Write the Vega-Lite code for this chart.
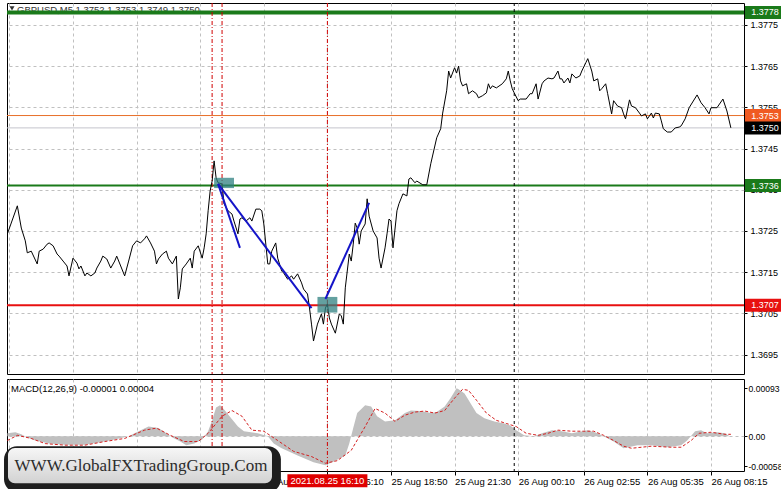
{
"$schema":"https://vega.github.io/schema/vega-lite/v6.json",
"background":"white",
"padding":{"left":3,"top":2,"right":0,"bottom":0},
"spacing":3,
"config":{"view":{"stroke":"#000","strokeWidth":1},"axis":{"labelFont":"Liberation Sans","labelFontSize":9,"labelColor":"#000","tickColor":"#000","domain":false,"gridColor":"#c0c0c0","gridDash":[3,3],"gridWidth":1},"text":{"font":"Liberation Sans","fontSize":9.5}},
"vconcat":[
{"width":737,"height":371,"layer":[
 {"data":{"values":[{}]},"mark":{"type":"text","text":"GBPUSD,M5  1.3752 1.3753 1.3749 1.3750","align":"left","baseline":"middle","color":"#333","xOffset":10},
  "encoding":{"x":{"datum":1629859440000,"type":"temporal","title":null},"y":{"datum":1.37786,"type":"quantitative","title":null}}},
 {"data":{"values":[{}]},"mark":{"type":"point","shape":"triangle-down","filled":true,"color":"#333","size":25,"xOffset":5,"opacity":1},
  "encoding":{"x":{"datum":1629859440000,"type":"temporal","title":null},"y":{"datum":1.3779,"type":"quantitative","title":null}}},
 {"data":{"values":[{"name":"bid","price":1.375},{"name":"ask","price":1.3753}]},
  "mark":{"type":"rule","strokeWidth":1},
  "encoding":{"y":{"field":"price","type":"quantitative","title":null},
   "stroke":{"field":"name","type":"nominal","scale":{"domain":["res","ask","bid","buy","sell"],"range":["#1a7a1a","#e8702a","#c4c4cc","#1a7a1a","#e81010"]},"legend":null}}},
 {"data":{"values":[{"name":"buy","price":1.3736},{"name":"sell","price":1.3707}]},
  "mark":{"type":"rule","strokeWidth":2},
  "encoding":{"y":{"field":"price","type":"quantitative","title":null},
   "stroke":{"field":"name","type":"nominal","legend":null}}},
 {"data":{"values":[{"name":"res","price":1.3778}]},
  "mark":{"type":"rule","strokeWidth":4},
  "encoding":{"y":{"field":"price","type":"quantitative","title":null},
   "stroke":{"field":"name","type":"nominal","legend":null}}},
 {"data":{"values":[{"t":"2021-08-25T11:20Z"},{"t":"2021-08-25T11:45Z"},{"t":"2021-08-25T16:10Z"}]},
  "mark":{"type":"rule","color":"#d00000","strokeDash":[4,2,1,2],"strokeWidth":1},
  "encoding":{"x":{"field":"t","type":"temporal","title":null}}},
 {"data":{"values":[{"t":"2021-08-26T00:00Z"}]},
  "mark":{"type":"rule","color":"#000","strokeDash":[3,3],"strokeWidth":1},
  "encoding":{"x":{"field":"t","type":"temporal","title":null}}},
 {"data":{"values":[
{"t":"2021-08-25T02:45Z","p":1.37243},{"t":"2021-08-25T03:10Z","p":1.37311},{"t":"2021-08-25T03:20Z","p":1.37257},{"t":"2021-08-25T03:30Z","p":1.37226},{"t":"2021-08-25T03:35Z","p":1.37197},{"t":"2021-08-25T03:45Z","p":1.37201},{"t":"2021-08-25T04:00Z","p":1.3717},{"t":"2021-08-25T04:05Z","p":1.37201},{"t":"2021-08-25T04:15Z","p":1.37206},{"t":"2021-08-25T04:25Z","p":1.37218},{"t":"2021-08-25T04:30Z","p":1.37221},{"t":"2021-08-25T04:40Z","p":1.37214},{"t":"2021-08-25T04:50Z","p":1.37194},{"t":"2021-08-25T04:55Z","p":1.37189},{"t":"2021-08-25T05:05Z","p":1.37177},{"t":"2021-08-25T05:15Z","p":1.37165},{"t":"2021-08-25T05:20Z","p":1.37141},{"t":"2021-08-25T05:30Z","p":1.37184},{"t":"2021-08-25T05:40Z","p":1.37172},{"t":"2021-08-25T05:45Z","p":1.37158},{"t":"2021-08-25T05:50Z","p":1.37165},{"t":"2021-08-25T06:00Z","p":1.37141},{"t":"2021-08-25T06:05Z","p":1.37148},{"t":"2021-08-25T06:15Z","p":1.37141},{"t":"2021-08-25T06:25Z","p":1.37148},{"t":"2021-08-25T06:30Z","p":1.3716},{"t":"2021-08-25T06:40Z","p":1.37177},{"t":"2021-08-25T06:45Z","p":1.37189},{"t":"2021-08-25T06:55Z","p":1.37182},{"t":"2021-08-25T07:05Z","p":1.3716},{"t":"2021-08-25T07:15Z","p":1.37177},{"t":"2021-08-25T07:20Z","p":1.37189},{"t":"2021-08-25T07:30Z","p":1.37165},{"t":"2021-08-25T07:40Z","p":1.37141},{"t":"2021-08-25T07:50Z","p":1.37177},{"t":"2021-08-25T08:00Z","p":1.37214},{"t":"2021-08-25T08:10Z","p":1.37226},{"t":"2021-08-25T08:20Z","p":1.37221},{"t":"2021-08-25T08:30Z","p":1.37231},{"t":"2021-08-25T08:35Z","p":1.37238},{"t":"2021-08-25T08:45Z","p":1.37221},{"t":"2021-08-25T08:55Z","p":1.37201},{"t":"2021-08-25T09:00Z","p":1.3717},{"t":"2021-08-25T09:05Z","p":1.37182},{"t":"2021-08-25T09:15Z","p":1.37194},{"t":"2021-08-25T09:25Z","p":1.37201},{"t":"2021-08-25T09:30Z","p":1.37184},{"t":"2021-08-25T09:40Z","p":1.3717},{"t":"2021-08-25T09:50Z","p":1.37189},{"t":"2021-08-25T09:55Z","p":1.37085},{"t":"2021-08-25T10:00Z","p":1.37112},{"t":"2021-08-25T10:05Z","p":1.37158},{"t":"2021-08-25T10:15Z","p":1.3717},{"t":"2021-08-25T10:25Z","p":1.37184},{"t":"2021-08-25T10:30Z","p":1.3716},{"t":"2021-08-25T10:35Z","p":1.37201},{"t":"2021-08-25T10:45Z","p":1.37214},{"t":"2021-08-25T10:55Z","p":1.37184},{"t":"2021-08-25T11:00Z","p":1.37209},{"t":"2021-08-25T11:05Z","p":1.37243},{"t":"2021-08-25T11:10Z","p":1.37299},{"t":"2021-08-25T11:15Z","p":1.37347},{"t":"2021-08-25T11:20Z","p":1.37371},{"t":"2021-08-25T11:25Z","p":1.3742},{"t":"2021-08-25T11:30Z","p":1.37379},{"t":"2021-08-25T11:35Z","p":1.37367},{"t":"2021-08-25T11:45Z","p":1.37364},{"t":"2021-08-25T11:50Z","p":1.37316},{"t":"2021-08-25T12:00Z","p":1.37299},{"t":"2021-08-25T12:10Z","p":1.37291},{"t":"2021-08-25T12:15Z","p":1.37274},{"t":"2021-08-25T12:25Z","p":1.37243},{"t":"2021-08-25T12:30Z","p":1.37279},{"t":"2021-08-25T12:35Z","p":1.37282},{"t":"2021-08-25T12:45Z","p":1.37274},{"t":"2021-08-25T12:55Z","p":1.37282},{"t":"2021-08-25T13:00Z","p":1.37274},{"t":"2021-08-25T13:10Z","p":1.37303},{"t":"2021-08-25T13:20Z","p":1.37303},{"t":"2021-08-25T13:25Z","p":1.37299},{"t":"2021-08-25T13:30Z","p":1.37267},{"t":"2021-08-25T13:40Z","p":1.3717},{"t":"2021-08-25T13:45Z","p":1.3717},{"t":"2021-08-25T13:50Z","p":1.37201},{"t":"2021-08-25T14:00Z","p":1.37221},{"t":"2021-08-25T14:05Z","p":1.37184},{"t":"2021-08-25T14:15Z","p":1.37153},{"t":"2021-08-25T14:20Z","p":1.37148},{"t":"2021-08-25T14:30Z","p":1.37133},{"t":"2021-08-25T14:40Z","p":1.37141},{"t":"2021-08-25T14:45Z","p":1.37133},{"t":"2021-08-25T14:55Z","p":1.37146},{"t":"2021-08-25T15:05Z","p":1.37124},{"t":"2021-08-25T15:10Z","p":1.37109},{"t":"2021-08-25T15:20Z","p":1.37097},{"t":"2021-08-25T15:25Z","p":1.37063},{"t":"2021-08-25T15:30Z","p":1.37024},{"t":"2021-08-25T15:35Z","p":1.36983},{"t":"2021-08-25T15:45Z","p":1.37024},{"t":"2021-08-25T15:55Z","p":1.37049},{"t":"2021-08-25T16:00Z","p":1.37024},{"t":"2021-08-25T16:05Z","p":1.37063},{"t":"2021-08-25T16:10Z","p":1.37073},{"t":"2021-08-25T16:15Z","p":1.37039},{"t":"2021-08-25T16:20Z","p":1.37024},{"t":"2021-08-25T16:30Z","p":1.37002},{"t":"2021-08-25T16:40Z","p":1.37049},{"t":"2021-08-25T16:45Z","p":1.37044},{"t":"2021-08-25T16:50Z","p":1.37024},{"t":"2021-08-25T16:55Z","p":1.37112},{"t":"2021-08-25T17:05Z","p":1.37194},{"t":"2021-08-25T17:10Z","p":1.37177},{"t":"2021-08-25T17:15Z","p":1.37218},{"t":"2021-08-25T17:20Z","p":1.37269},{"t":"2021-08-25T17:25Z","p":1.37257},{"t":"2021-08-25T17:30Z","p":1.37218},{"t":"2021-08-25T17:35Z","p":1.3725},{"t":"2021-08-25T17:45Z","p":1.37267},{"t":"2021-08-25T17:50Z","p":1.37328},{"t":"2021-08-25T17:55Z","p":1.37286},{"t":"2021-08-25T18:05Z","p":1.3725},{"t":"2021-08-25T18:15Z","p":1.37233},{"t":"2021-08-25T18:20Z","p":1.37184},{"t":"2021-08-25T18:25Z","p":1.3716},{"t":"2021-08-25T18:35Z","p":1.37209},{"t":"2021-08-25T18:40Z","p":1.37243},{"t":"2021-08-25T18:45Z","p":1.37279},{"t":"2021-08-25T18:50Z","p":1.37274},{"t":"2021-08-25T18:55Z","p":1.37209},{"t":"2021-08-25T19:05Z","p":1.37299},{"t":"2021-08-25T19:10Z","p":1.37316},{"t":"2021-08-25T19:20Z","p":1.3734},{"t":"2021-08-25T19:30Z","p":1.37335},{"t":"2021-08-25T19:35Z","p":1.37376},{"t":"2021-08-25T19:40Z","p":1.37379},{"t":"2021-08-25T19:50Z","p":1.37367},{"t":"2021-08-25T19:55Z","p":1.37371},{"t":"2021-08-25T20:10Z","p":1.37362},{"t":"2021-08-25T20:20Z","p":1.37362},{"t":"2021-08-25T20:30Z","p":1.37413},{"t":"2021-08-25T20:45Z","p":1.37476},{"t":"2021-08-25T20:55Z","p":1.37498},{"t":"2021-08-25T21:00Z","p":1.37536},{"t":"2021-08-25T21:10Z","p":1.3759},{"t":"2021-08-25T21:15Z","p":1.37638},{"t":"2021-08-25T21:20Z","p":1.37621},{"t":"2021-08-25T21:30Z","p":1.37646},{"t":"2021-08-25T21:35Z","p":1.37633},{"t":"2021-08-25T21:40Z","p":1.3765},{"t":"2021-08-25T21:45Z","p":1.37614},{"t":"2021-08-25T21:50Z","p":1.37602},{"t":"2021-08-25T22:00Z","p":1.37607},{"t":"2021-08-25T22:05Z","p":1.37583},{"t":"2021-08-25T22:15Z","p":1.3759},{"t":"2021-08-25T22:25Z","p":1.37583},{"t":"2021-08-25T22:30Z","p":1.37573},{"t":"2021-08-25T22:40Z","p":1.37578},{"t":"2021-08-25T22:50Z","p":1.37585},{"t":"2021-08-25T22:55Z","p":1.37607},{"t":"2021-08-25T23:00Z","p":1.37595},{"t":"2021-08-25T23:05Z","p":1.37602},{"t":"2021-08-25T23:15Z","p":1.37597},{"t":"2021-08-25T23:30Z","p":1.37607},{"t":"2021-08-25T23:40Z","p":1.37619},{"t":"2021-08-25T23:45Z","p":1.37638},{"t":"2021-08-25T23:50Z","p":1.37614},{"t":"2021-08-25T23:55Z","p":1.37595},{"t":"2021-08-26T00:00Z","p":1.37585},{"t":"2021-08-26T00:10Z","p":1.37566},{"t":"2021-08-26T00:15Z","p":1.3757},{"t":"2021-08-26T00:30Z","p":1.3757},{"t":"2021-08-26T00:40Z","p":1.37583},{"t":"2021-08-26T00:45Z","p":1.37583},{"t":"2021-08-26T00:55Z","p":1.37607},{"t":"2021-08-26T01:00Z","p":1.3757},{"t":"2021-08-26T01:10Z","p":1.37607},{"t":"2021-08-26T01:15Z","p":1.37614},{"t":"2021-08-26T01:25Z","p":1.37621},{"t":"2021-08-26T01:35Z","p":1.37619},{"t":"2021-08-26T01:40Z","p":1.37621},{"t":"2021-08-26T01:50Z","p":1.37638},{"t":"2021-08-26T01:55Z","p":1.37619},{"t":"2021-08-26T02:00Z","p":1.37619},{"t":"2021-08-26T02:05Z","p":1.37609},{"t":"2021-08-26T02:15Z","p":1.37621},{"t":"2021-08-26T02:20Z","p":1.37609},{"t":"2021-08-26T02:25Z","p":1.37631},{"t":"2021-08-26T02:35Z","p":1.37621},{"t":"2021-08-26T02:45Z","p":1.37626},{"t":"2021-08-26T02:50Z","p":1.37638},{"t":"2021-08-26T03:00Z","p":1.37658},{"t":"2021-08-26T03:05Z","p":1.37668},{"t":"2021-08-26T03:15Z","p":1.37638},{"t":"2021-08-26T03:20Z","p":1.37614},{"t":"2021-08-26T03:30Z","p":1.37619},{"t":"2021-08-26T03:35Z","p":1.3759},{"t":"2021-08-26T03:40Z","p":1.37595},{"t":"2021-08-26T03:50Z","p":1.37607},{"t":"2021-08-26T03:55Z","p":1.37583},{"t":"2021-08-26T04:05Z","p":1.37534},{"t":"2021-08-26T04:10Z","p":1.37566},{"t":"2021-08-26T04:20Z","p":1.37553},{"t":"2021-08-26T04:30Z","p":1.37549},{"t":"2021-08-26T04:35Z","p":1.37534},{"t":"2021-08-26T04:40Z","p":1.37522},{"t":"2021-08-26T04:50Z","p":1.37568},{"t":"2021-08-26T04:55Z","p":1.37553},{"t":"2021-08-26T05:05Z","p":1.37549},{"t":"2021-08-26T05:15Z","p":1.37536},{"t":"2021-08-26T05:20Z","p":1.37529},{"t":"2021-08-26T05:30Z","p":1.37534},{"t":"2021-08-26T05:35Z","p":1.37522},{"t":"2021-08-26T05:45Z","p":1.37536},{"t":"2021-08-26T05:50Z","p":1.37524},{"t":"2021-08-26T05:55Z","p":1.37536},{"t":"2021-08-26T06:05Z","p":1.37534},{"t":"2021-08-26T06:10Z","p":1.37517},{"t":"2021-08-26T06:15Z","p":1.37498},{"t":"2021-08-26T06:25Z","p":1.3749},{"t":"2021-08-26T06:35Z","p":1.3749},{"t":"2021-08-26T06:45Z","p":1.375},{"t":"2021-08-26T06:55Z","p":1.37502},{"t":"2021-08-26T07:00Z","p":1.37505},{"t":"2021-08-26T07:10Z","p":1.37522},{"t":"2021-08-26T07:20Z","p":1.37549},{"t":"2021-08-26T07:40Z","p":1.3758},{"t":"2021-08-26T07:50Z","p":1.37561},{"t":"2021-08-26T08:00Z","p":1.37549},{"t":"2021-08-26T08:10Z","p":1.37534},{"t":"2021-08-26T08:15Z","p":1.37549},{"t":"2021-08-26T08:30Z","p":1.37549},{"t":"2021-08-26T08:45Z","p":1.3757},{"t":"2021-08-26T08:55Z","p":1.37541},{"t":"2021-08-26T09:05Z","p":1.375}
 ]},
  "mark":{"type":"line","color":"#000","strokeWidth":1},
  "encoding":{
   "x":{"field":"t","type":"temporal","title":null,"scale":{"type":"utc","domain":[1629859440000,1629970680000],"nice":false},
    "axis":{"values":[1629859800000,1629864600000,1629869400000,1629874200000,1629879000000,1629883800000,1629888600000,1629893400000,1629898200000,1629903000000,1629907800000,1629912600000,1629917400000,1629922200000,1629927000000,1629931800000,1629936600000,1629941400000,1629946500000,1629951300000,1629956100000,1629960900000,1629965700000,1629970500000],"labels":false,"ticks":false,"domain":false,"grid":true,"minExtent":0,"maxExtent":0,"title":null}},
   "y":{"field":"p","type":"quantitative","title":null,"scale":{"domain":[1.36903,1.37803],"nice":false,"zero":false},
    "axis":{"orient":"right","values":[1.3695,1.3705,1.3715,1.3725,1.3735,1.3745,1.3755,1.3765,1.3775],"format":".4f","grid":true,"tickSize":3,"labelPadding":3,"title":null}}}},
 {"data":{"values":[{"t1":"2021-08-25T11:25Z","t2":"2021-08-25T12:15Z","lo":1.37354,"hi":1.37379},{"t1":"2021-08-25T15:45Z","t2":"2021-08-25T16:35Z","lo":1.37052,"hi":1.3709}]},
  "mark":{"type":"rect","color":"#2f8080","opacity":0.75},
  "encoding":{"x":{"field":"t1","type":"temporal","title":null},"x2":{"field":"t2"},"y":{"field":"lo","type":"quantitative","title":null},"y2":{"field":"hi"}}},
 {"data":{"values":[{"id":"a","t":"2021-08-25T11:35Z","p":1.37364},{"id":"a","t":"2021-08-25T12:30Z","p":1.37209},{"id":"b","t":"2021-08-25T11:35Z","p":1.37364},{"id":"b","t":"2021-08-25T15:30Z","p":1.37063},{"id":"c","t":"2021-08-25T16:05Z","p":1.37085},{"id":"c","t":"2021-08-25T17:55Z","p":1.37318}]},
  "mark":{"type":"line","color":"#1414c8","strokeWidth":2},
  "encoding":{"x":{"field":"t","type":"temporal","title":null},"y":{"field":"p","type":"quantitative","title":null},"detail":{"field":"id","type":"nominal"}}},
 {"data":{"values":[{"name":"res","price":1.3778},{"name":"ask","price":1.3753},{"name":"bid","price":1.375},{"name":"buy","price":1.3736},{"name":"sell","price":1.3707}]},
  "layer":[
   {"mark":{"type":"rect","width":40,"height":13,"xOffset":21},
    "encoding":{"x":{"datum":1629970680000,"type":"temporal","title":null},"y":{"field":"price","type":"quantitative","title":null},
     "fill":{"field":"name","type":"nominal","scale":{"domain":["res","ask","bid","buy","sell"],"range":["#1a7a1a","#f05a22","#000000","#1a7a1a","#e81010"]},"legend":null}}},
   {"mark":{"type":"text","color":"#fff","align":"center","baseline":"middle","xOffset":21,"fontSize":9},
    "encoding":{"x":{"datum":1629970680000,"type":"temporal","title":null},"y":{"field":"price","type":"quantitative","title":null},"text":{"field":"price","type":"quantitative","format":".4f"}}}
  ]}
]},
{"width":737,"height":92,"layer":[
 {"data":{"values":[
{"t":"2021-08-25T02:45Z","h":0.00006},{"t":"2021-08-25T03:05Z","h":0.00008},{"t":"2021-08-25T03:20Z","h":0.00004},{"t":"2021-08-25T03:35Z","h":-0.00002},{"t":"2021-08-25T03:55Z","h":-0.00008},{"t":"2021-08-25T04:30Z","h":-0.00014},{"t":"2021-08-25T05:10Z","h":-0.00016},{"t":"2021-08-25T06:00Z","h":-0.00016},{"t":"2021-08-25T06:35Z","h":-0.00012},{"t":"2021-08-25T07:15Z","h":-0.00006},{"t":"2021-08-25T07:50Z","h":0},{"t":"2021-08-25T08:15Z","h":0.0001},{"t":"2021-08-25T08:40Z","h":0.00019},{"t":"2021-08-25T09:05Z","h":0.00016},{"t":"2021-08-25T09:25Z","h":0.00006},{"t":"2021-08-25T09:40Z","h":-0.00002},{"t":"2021-08-25T10:00Z","h":-0.0001},{"t":"2021-08-25T10:15Z","h":-0.00017},{"t":"2021-08-25T10:35Z","h":-0.00014},{"t":"2021-08-25T10:55Z","h":-0.00006},{"t":"2021-08-25T11:10Z","h":0.0001},{"t":"2021-08-25T11:20Z","h":0.00031},{"t":"2021-08-25T11:30Z","h":0.00056},{"t":"2021-08-25T11:40Z","h":0.0006},{"t":"2021-08-25T11:50Z","h":0.00052},{"t":"2021-08-25T12:10Z","h":0.00033},{"t":"2021-08-25T12:25Z","h":0.00019},{"t":"2021-08-25T12:40Z","h":0.0001},{"t":"2021-08-25T13:15Z","h":0.00006},{"t":"2021-08-25T13:40Z","h":0},{"t":"2021-08-25T13:55Z","h":-0.00014},{"t":"2021-08-25T14:15Z","h":-0.00023},{"t":"2021-08-25T14:55Z","h":-0.00037},{"t":"2021-08-25T15:35Z","h":-0.0005},{"t":"2021-08-25T16:05Z","h":-0.00056},{"t":"2021-08-25T16:25Z","h":-0.00049},{"t":"2021-08-25T16:55Z","h":-0.00037},{"t":"2021-08-25T17:05Z","h":-0.00014},{"t":"2021-08-25T17:15Z","h":0.00016},{"t":"2021-08-25T17:25Z","h":0.00045},{"t":"2021-08-25T17:45Z","h":0.0006},{"t":"2021-08-25T18:00Z","h":0.00058},{"t":"2021-08-25T18:15Z","h":0.00039},{"t":"2021-08-25T18:35Z","h":0.00029},{"t":"2021-08-25T19:00Z","h":0.00031},{"t":"2021-08-25T19:25Z","h":0.00045},{"t":"2021-08-25T19:40Z","h":0.0005},{"t":"2021-08-25T20:05Z","h":0.00049},{"t":"2021-08-25T20:30Z","h":0.00045},{"t":"2021-08-25T20:45Z","h":0.00047},{"t":"2021-08-25T21:05Z","h":0.00058},{"t":"2021-08-25T21:20Z","h":0.00074},{"t":"2021-08-25T21:35Z","h":0.00093},{"t":"2021-08-25T21:40Z","h":0.00091},{"t":"2021-08-25T21:55Z","h":0.00083},{"t":"2021-08-25T22:10Z","h":0.00064},{"t":"2021-08-25T22:25Z","h":0.00045},{"t":"2021-08-25T22:45Z","h":0.00035},{"t":"2021-08-25T23:10Z","h":0.00029},{"t":"2021-08-25T23:35Z","h":0.00025},{"t":"2021-08-25T23:50Z","h":0.00021},{"t":"2021-08-26T00:05Z","h":0.00012},{"t":"2021-08-26T00:25Z","h":0.00002},{"t":"2021-08-26T00:50Z","h":0},{"t":"2021-08-26T01:10Z","h":0.00006},{"t":"2021-08-26T01:35Z","h":0.00012},{"t":"2021-08-26T02:00Z","h":0.0001},{"t":"2021-08-26T02:25Z","h":0.00006},{"t":"2021-08-26T03:05Z","h":0.00012},{"t":"2021-08-26T03:30Z","h":0.00006},{"t":"2021-08-26T03:45Z","h":0},{"t":"2021-08-26T04:10Z","h":-0.0001},{"t":"2021-08-26T04:35Z","h":-0.00023},{"t":"2021-08-26T05:10Z","h":-0.00017},{"t":"2021-08-26T05:45Z","h":-0.00017},{"t":"2021-08-26T06:25Z","h":-0.00021},{"t":"2021-08-26T07:00Z","h":-0.00017},{"t":"2021-08-26T07:15Z","h":-0.00008},{"t":"2021-08-26T07:35Z","h":0.0001},{"t":"2021-08-26T07:50Z","h":0.00012},{"t":"2021-08-26T08:05Z","h":0.00006},{"t":"2021-08-26T08:30Z","h":0.00008},{"t":"2021-08-26T08:50Z","h":0.00006},{"t":"2021-08-26T09:05Z","h":-0.00001}
 ]},
  "mark":{"type":"area","color":"#c0c0c0","opacity":1},
  "encoding":{
   "x":{"field":"t","type":"temporal","title":null,"scale":{"type":"utc","domain":[1629859440000,1629970680000],"nice":false},
    "axis":{"values":[1629859800000,1629864600000,1629869400000,1629874200000,1629879000000,1629883800000,1629888600000,1629893400000,1629898200000,1629903000000,1629907800000,1629912600000,1629917400000,1629922200000,1629927000000,1629931800000,1629936600000,1629941400000,1629946500000,1629951300000,1629956100000,1629960900000,1629965700000,1629970500000],"grid":true,"domain":false,"title":null,"labelAlign":"left","labelBaseline":"top","labelPadding":1,"labelFlush":false,"labelOverlap":false,"tickSize":4,"labelFontSize":9.5,
     "labelExpr":"indexof(['02:50','05:30','08:10','10:50','13:30','16:10','18:50','21:30','00:10','02:55','05:35','08:15'], utcFormat(datum.value,'%H:%M')) >= 0 ? utcFormat(datum.value,'%d %b %H:%M') : ''",
     "tickOpacity":{"condition":{"test":"indexof(['02:50','05:30','08:10','10:50','13:30','16:10','18:50','21:30','00:10','02:55','05:35','08:15'], utcFormat(datum.value,'%H:%M')) >= 0","value":1},"value":0}}},
   "y":{"field":"h","type":"quantitative","title":null,"scale":{"domain":[-0.00067,0.00111],"nice":false,"zero":false},
    "axis":{"orient":"right","values":[0.00093,0,-0.00058],"labelExpr":"datum.value == 0 ? '0.00' : (datum.value < 0 ? '-' + format(-datum.value, '.5f') : format(datum.value, '.5f'))","grid":true,"gridOpacity":{"condition":{"test":"datum.value == 0","value":1},"value":0},"tickSize":3,"labelPadding":1,"labelFontSize":8.6,"title":null}},
   "y2":{"datum":0}}},
 {"data":{"values":[
{"t":"2021-08-25T02:45Z","s":-0.00008},{"t":"2021-08-25T03:10Z","s":0.00002},{"t":"2021-08-25T03:45Z","s":-0.00004},{"t":"2021-08-25T04:20Z","s":-0.00014},{"t":"2021-08-25T05:10Z","s":-0.00017},{"t":"2021-08-25T06:00Z","s":-0.00017},{"t":"2021-08-25T06:50Z","s":-0.0001},{"t":"2021-08-25T07:40Z","s":-0.00004},{"t":"2021-08-25T08:30Z","s":0.00012},{"t":"2021-08-25T09:00Z","s":0.00016},{"t":"2021-08-25T09:35Z","s":0.00002},{"t":"2021-08-25T10:10Z","s":-0.0001},{"t":"2021-08-25T10:45Z","s":-0.0001},{"t":"2021-08-25T11:10Z","s":0.00006},{"t":"2021-08-25T11:45Z","s":0.00039},{"t":"2021-08-25T12:10Z","s":0.0005},{"t":"2021-08-25T12:35Z","s":0.00039},{"t":"2021-08-25T13:00Z","s":0.00012},{"t":"2021-08-25T13:30Z","s":0.0001},{"t":"2021-08-25T14:05Z","s":-0.00008},{"t":"2021-08-25T14:45Z","s":-0.00029},{"t":"2021-08-25T15:30Z","s":-0.00039},{"t":"2021-08-25T16:05Z","s":-0.00052},{"t":"2021-08-25T16:35Z","s":-0.00047},{"t":"2021-08-25T17:10Z","s":-0.00027},{"t":"2021-08-25T17:45Z","s":0.00019},{"t":"2021-08-25T18:10Z","s":0.00054},{"t":"2021-08-25T18:35Z","s":0.00045},{"t":"2021-08-25T19:00Z","s":0.00029},{"t":"2021-08-25T19:25Z","s":0.00041},{"t":"2021-08-25T19:50Z","s":0.00047},{"t":"2021-08-25T20:15Z","s":0.00049},{"t":"2021-08-25T20:40Z","s":0.00045},{"t":"2021-08-25T21:05Z","s":0.0005},{"t":"2021-08-25T21:30Z","s":0.00074},{"t":"2021-08-25T21:50Z","s":0.00091},{"t":"2021-08-25T22:05Z","s":0.00089},{"t":"2021-08-25T22:25Z","s":0.0007},{"t":"2021-08-25T22:50Z","s":0.00045},{"t":"2021-08-25T23:15Z","s":0.00031},{"t":"2021-08-25T23:40Z","s":0.00025},{"t":"2021-08-26T00:05Z","s":0.00019},{"t":"2021-08-26T00:30Z","s":0.00006},{"t":"2021-08-26T01:00Z","s":0.00002},{"t":"2021-08-26T01:25Z","s":0.00006},{"t":"2021-08-26T01:50Z","s":0.00012},{"t":"2021-08-26T02:25Z","s":0.0001},{"t":"2021-08-26T02:55Z","s":0.0001},{"t":"2021-08-26T03:20Z","s":0.0001},{"t":"2021-08-26T03:45Z","s":0.00002},{"t":"2021-08-26T04:10Z","s":-0.00008},{"t":"2021-08-26T04:35Z","s":-0.00019},{"t":"2021-08-26T04:55Z","s":-0.00023},{"t":"2021-08-26T05:45Z","s":-0.00019},{"t":"2021-08-26T06:35Z","s":-0.00021},{"t":"2021-08-26T07:00Z","s":-0.00021},{"t":"2021-08-26T07:25Z","s":-0.00008},{"t":"2021-08-26T07:45Z","s":0.00006},{"t":"2021-08-26T08:15Z","s":0.00008},{"t":"2021-08-26T08:50Z","s":0.00004},{"t":"2021-08-26T09:05Z","s":0.00004}
 ]},
  "mark":{"type":"line","color":"#d42020","strokeWidth":1,"strokeDash":[3,2]},
  "encoding":{"x":{"field":"t","type":"temporal","title":null},"y":{"field":"s","type":"quantitative","title":null}}},
 {"data":{"values":[{"t":"2021-08-25T11:20Z"},{"t":"2021-08-25T11:45Z"},{"t":"2021-08-25T16:10Z"}]},
  "mark":{"type":"rule","color":"#d00000","strokeDash":[4,2,1,2],"strokeWidth":1},
  "encoding":{"x":{"field":"t","type":"temporal","title":null}}},
 {"data":{"values":[{"t":"2021-08-26T00:00Z"}]},
  "mark":{"type":"rule","color":"#000","strokeDash":[3,3],"strokeWidth":1},
  "encoding":{"x":{"field":"t","type":"temporal","title":null}}},
 {"data":{"values":[{}]},"mark":{"type":"text","text":"MACD(12,26,9) -0.00001 0.00004","align":"left","baseline":"middle","color":"#000","xOffset":4},
  "encoding":{"x":{"datum":1629859440000,"type":"temporal","title":null},"y":{"datum":0.00092,"type":"quantitative","title":null}}},
 {"data":{"values":[{}]},"mark":{"type":"rect","color":"#1e1e1e","cornerRadius":13},
  "encoding":{"x":{"datum":1629858990000,"type":"temporal","title":null},"x2":{"datum":1629900780000},"y":{"datum":-0.00019,"type":"quantitative","title":null},"y2":{"datum":-0.00108}}},
 {"data":{"values":[{}]},"mark":{"type":"rect","cornerRadius":7,"fill":{"gradient":"linear","x1":0,"y1":0,"x2":0,"y2":1,"stops":[{"offset":0,"color":"#f6f6f6"},{"offset":1,"color":"#d2d2d2"}]}},
  "encoding":{"x":{"datum":1629859590000,"type":"temporal","title":null},"x2":{"datum":1629899436000},"y":{"datum":-0.000226,"type":"quantitative","title":null},"y2":{"datum":-0.000905}}},
 {"data":{"values":[{}]},"mark":{"type":"text","text":"WWW.GlobalFXTradingGroup.Com","font":"Liberation Serif","fontSize":17,"color":"#2c2c2c","align":"center","baseline":"middle"},
  "encoding":{"x":{"datum":1629879660000,"type":"temporal","title":null},"y":{"datum":-0.000576,"type":"quantitative","title":null}}},
 {"data":{"values":[{}]},"mark":{"type":"rect","color":"#e00000","width":80,"height":13},
  "encoding":{"x":{"datum":1629907800000,"type":"temporal","title":null},"y":{"datum":-0.000857,"type":"quantitative","title":null}}},
 {"data":{"values":[{}]},"mark":{"type":"text","text":"2021.08.25 16:10","color":"#fff","align":"center","baseline":"middle"},
  "encoding":{"x":{"datum":1629907800000,"type":"temporal","title":null},"y":{"datum":-0.000857,"type":"quantitative","title":null}}}
]}
]
}
